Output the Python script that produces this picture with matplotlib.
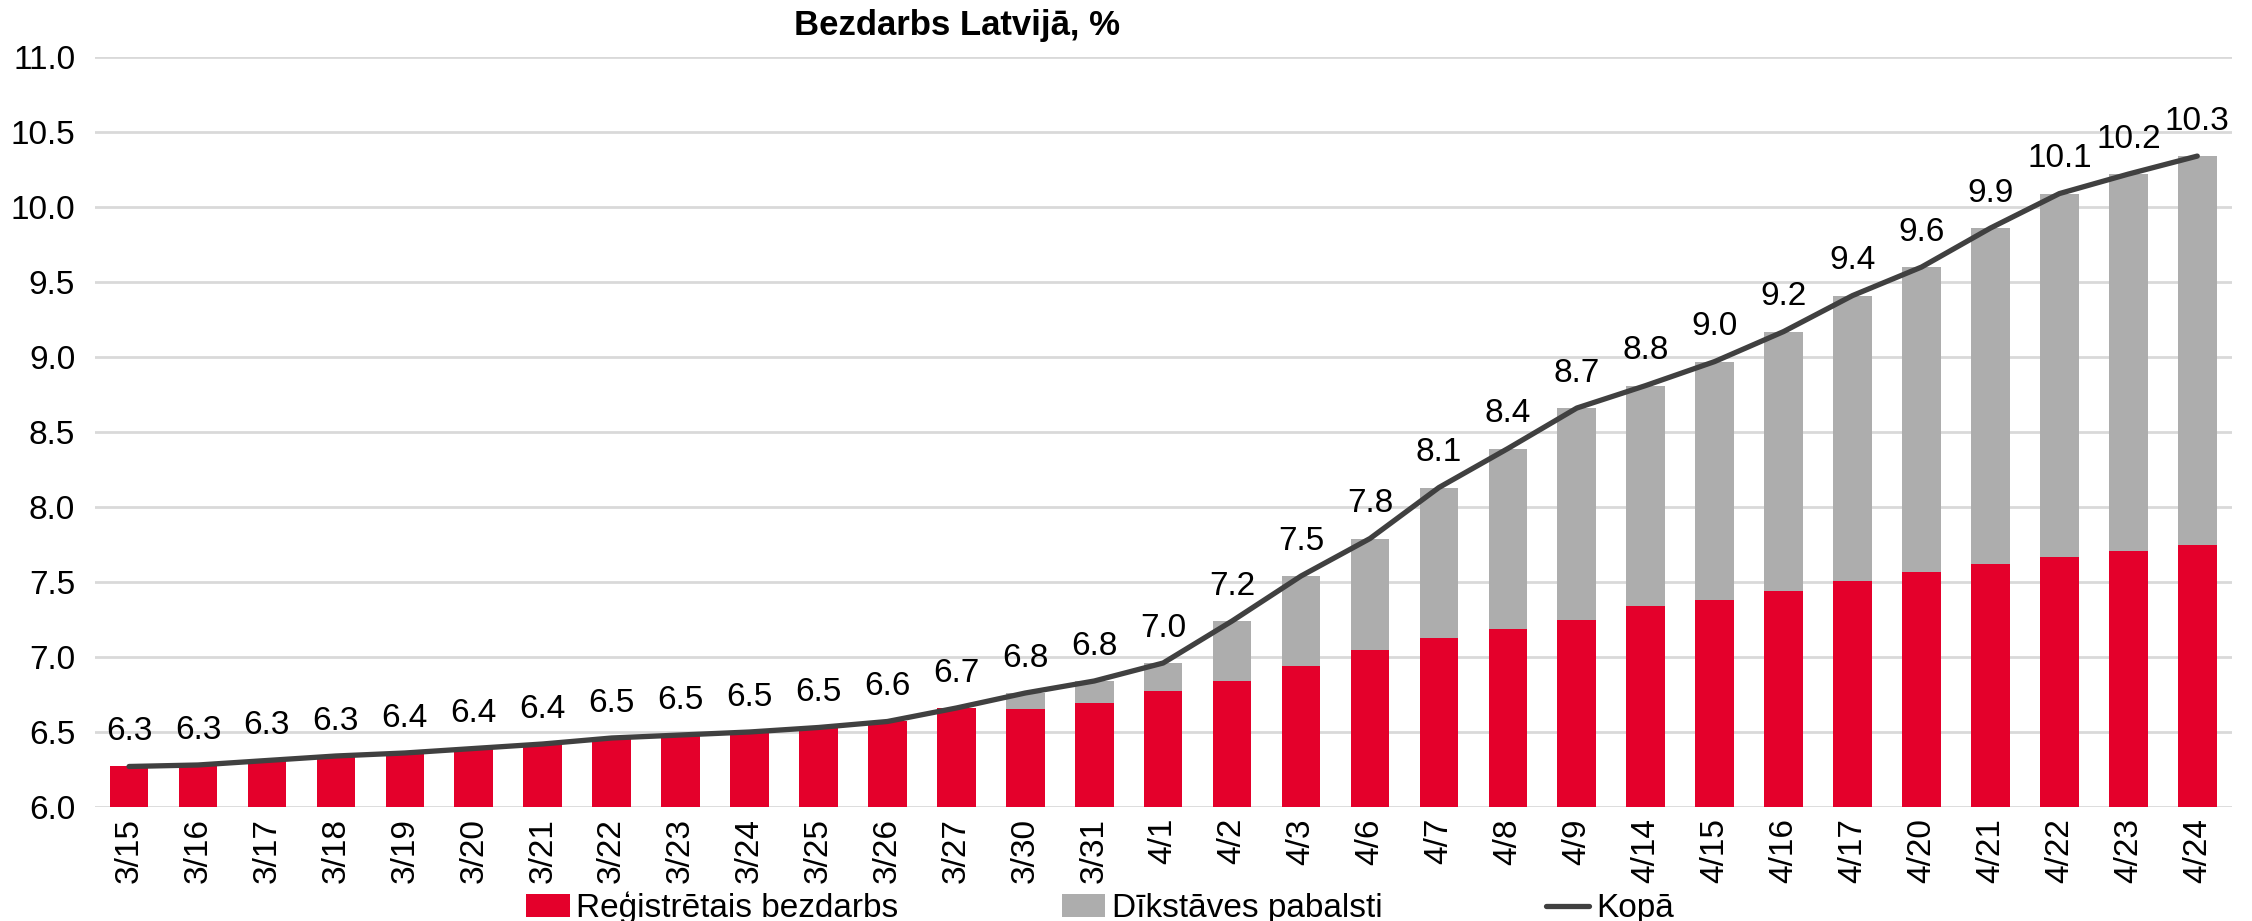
import numpy as np
import matplotlib.pyplot as plt

plt.rcParams['font.family'] = ['Liberation Sans', 'DejaVu Sans']

dates = ['3/15', '3/16', '3/17', '3/18', '3/19', '3/20', '3/21', '3/22', '3/23',
         '3/24', '3/25', '3/26', '3/27', '3/30', '3/31', '4/1', '4/2', '4/3',
         '4/6', '4/7', '4/8', '4/9', '4/14', '4/15', '4/16', '4/17', '4/20',
         '4/21', '4/22', '4/23', '4/24']

# registered unemployment, %
registered = [6.27, 6.28, 6.31, 6.34, 6.36, 6.39, 6.42, 6.46, 6.48, 6.50, 6.53,
              6.57, 6.66, 6.65, 6.69, 6.77, 6.84, 6.94, 7.05, 7.13, 7.19, 7.25,
              7.34, 7.38, 7.44, 7.51, 7.57, 7.62, 7.67, 7.71, 7.75]
# downtime benefits, %
downtime = [0, 0, 0, 0, 0, 0, 0, 0, 0, 0, 0, 0, 0, 0.11, 0.15, 0.19, 0.40, 0.60,
            0.74, 1.00, 1.20, 1.41, 1.47, 1.59, 1.73, 1.90, 2.03, 2.24, 2.42,
            2.51, 2.59]

total = np.array(registered) + np.array(downtime)
x = np.arange(len(dates))

fs = 24

fig = plt.figure(figsize=(22.52, 9.21), dpi=100)
ax = fig.add_axes([0.042, 0.1238, 0.949, 0.8142])

b1 = ax.bar(x, registered, width=0.56, color='#E4002B', label='Reģistrētais bezdarbs', zorder=2)
b2 = ax.bar(x, downtime, width=0.56, color='#ADADAD', bottom=registered, label='Dīkstāves pabalsti', zorder=2)
l1, = ax.plot(x, total, color='#404040', lw=3.8, label='Kopā', zorder=3, solid_capstyle='round')

for xi, v in zip(x, total):
    ax.annotate(f'{v:.1f}', (xi, v), xytext=(0, 25), textcoords='offset points',
                ha='center', va='center', fontsize=fs)

ax.set_ylim(6, 11)
ax.set_xlim(-0.5, len(dates) - 0.5)
ax.set_yticks(np.arange(6, 11.01, 0.5))
ax.set_yticklabels([f'{t:.1f}' for t in np.arange(6, 11.01, 0.5)])
ax.set_xticks(x)
ax.set_xticklabels(dates, rotation=90)
ax.tick_params(axis='y', length=0, pad=14, labelsize=fs)
ax.tick_params(axis='x', length=0, pad=8, labelsize=fs)
ax.grid(axis='y', color='#D9D9D9', lw=2, zorder=0)
for s in ax.spines.values():
    s.set_visible(False)

fig.text(0.425, 0.972, 'Bezdarbs Latvijā, %', ha='center', va='center',
         fontsize=25, fontweight='bold')

fig.legend([b1, b2, l1], ['Reģistrētais bezdarbs', 'Dīkstāves pabalsti', 'Kopā'],
           loc='center', bbox_to_anchor=(1100 / 2252, 1 - 908 / 921), ncol=3,
           frameon=False, fontsize=fs, columnspacing=4.9, handlelength=1.3,
           handletextpad=0.2, borderaxespad=0)

fig.savefig('out.png', dpi=100)
